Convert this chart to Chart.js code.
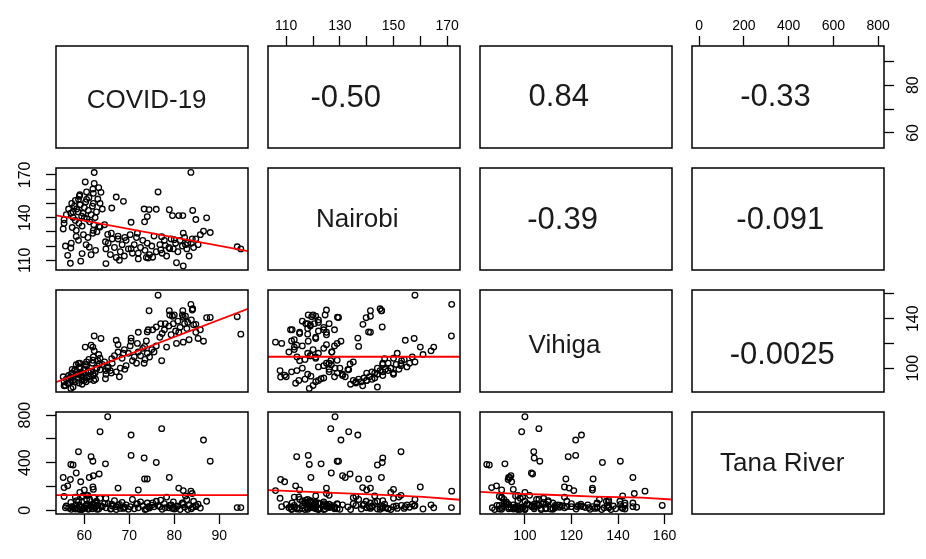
<!DOCTYPE html>
<html>
<head>
<meta charset="utf-8">
<script src="https://cdn.jsdelivr.net/npm/chart.js@4.4.1/dist/chart.umd.min.js"></script>
<style>
  body { margin: 0; background: #fff; width: 926px; height: 559px; overflow: hidden; position: relative; }
  .panel { position: absolute; }
</style>
</head>
<body>
<script>
// variable names on the diagonal
const varNames = ['COVID-19', 'Nairobi', 'Vihiga', 'Tana River'];

// one entry per observation, same order in every array
const covid = [
  65.2, 77.2, 63.5, 70.4, 86.5, 58.7, 70.4, 61.5, 73.3, 88, 76, 57, 64.7, 57.5, 61.9, 58.2, 63.3, 62, 55.3, 61.1, 56.9, 59.2, 73.4, 74, 78.9, 67.5, 81, 83.7, 82, 64.8, 55.5, 56.3, 60, 62, 61.9, 72, 82.5, 84, 87.2, 76.4, 94, 94.8, 62.2, 59, 60.5,
  74.4, 79.6, 81.9, 84.1, 84.8, 67.1, 68.7, 66.1, 60.2, 62.2, 63.2, 63.7, 80.5,
  57.2, 57.8, 58.0, 58.3, 58.6, 58.9, 59.1, 59.4, 59.7, 60.0, 60.3, 60.6, 60.9, 61.2, 61.5, 61.8, 62.1, 62.4, 62.7, 63.0, 56.5, 57.0, 57.5, 58.0, 58.8, 59.5, 56.0, 55.5, 59.0, 60.5, 61.0, 62.0, 63.5, 64.0, 58.2, 59.8, 60.8, 57.3, 62.8, 64.5,
  55.8, 57.1, 58.7, 60.4, 62.5, 59.5,
  64.8, 65.3, 65.8, 66.2, 66.7, 67.1, 67.5, 68.0, 68.4, 68.9, 69.3, 69.8, 70.2, 70.7, 71.1, 71.6, 72.0, 72.5, 73.0, 73.5, 74.0, 74.5, 75.0, 75.5, 76.0, 66.0, 67.8, 69.0, 71.8, 73.8,
  76.8, 77.3, 77.8, 78.3, 78.8, 79.3, 79.8, 80.3, 80.8, 81.3, 81.8, 82.3, 82.8, 83.3, 83.8, 84.3, 84.8, 85.3, 85.8, 79.0, 80.0, 74.2, 75.2, 77.0, 78.0, 82.0, 83.0
];
const nairobi = [
  128.2, 126.6, 133.3, 136.7, 130.4, 152.8, 118.2, 113.9, 146, 129.5, 145.8, 118.6, 123, 144, 129, 126.8, 133.8, 131, 132, 119.2, 107.9, 109.4, 137, 140.7, 145.5, 125, 141.4, 171.7, 106, 107.7, 138.5, 113.5, 140, 150, 160, 115, 121, 125, 139.8, 158, 119.5, 118, 171.6, 149, 152.8,
  145.6, 141.4, 141.4, 145, 138.6, 154.4, 151.4, 146.7, 165, 164, 161, 157.7, 108.3,
  150, 148, 152, 146, 144, 155, 149, 141, 143, 147, 151, 139, 145, 137, 142, 148, 135, 140, 144, 153, 146, 143, 140, 138, 136, 134, 142, 136, 156, 158, 154, 157, 150, 146, 131, 128, 126, 133, 130, 135,
  120, 122, 124, 121, 117, 114.7,
  118, 122, 114, 125, 119, 112, 127, 116, 121, 113, 124, 118, 128, 115, 121, 126, 111, 119, 124, 117, 122, 114, 120, 127, 116, 129, 110, 126, 129, 112,
  121, 115, 124, 113, 119, 125, 118, 122, 116, 124, 120, 126, 118, 113, 122, 119, 125, 121, 128, 118.2, 124.5, 111.6, 112.2, 117.3, 120.5, 129.1, 122
];
const vihiga = [
  100, 106, 98.6, 124.3, 121.8, 103.8, 121.8, 118.6, 104, 141, 133.3, 83.6, 91.4, 84.7, 106.4, 102.8, 103.3, 94, 93, 93.5, 92.8, 94.3, 117.6, 129.3, 146.4, 119, 129, 151.6, 121, 98, 85.7, 87.8, 90, 95, 117, 129, 142, 147, 140.8, 159, 141.6, 127.5, 126, 100, 102,
  146.4, 142, 146.4, 148, 135.4, 122.5, 112, 107.6, 117, 114, 111, 124, 120,
  96, 98, 99, 97, 95, 101, 100, 93, 96, 99, 103, 92, 98, 91, 97, 104, 90, 96, 100, 106, 94, 92, 90, 89, 88, 87, 91, 89, 104, 105, 107, 109, 108, 103, 95, 93, 97, 99, 100, 105,
  86, 90, 92, 89, 91, 90,
  95, 101, 98, 104, 110, 97, 113, 100, 108, 115, 102, 112, 118, 106, 109, 104, 113, 110, 116, 107, 112, 109, 115, 113, 118, 96, 93, 99, 120, 122,
  125, 128, 131, 117, 134, 127, 136, 130, 138, 133, 143, 136, 132, 123, 139, 135, 129, 124, 131, 143, 143, 131, 131, 136, 136, 141.1, 137
];
const tana = [
  786, 686, 660, 632, 590, 492, 461, 450, 439, 412, 401, 385, 390, 380, 412, 313, 305, 290, 275, 275, 258, 239, 263, 263, 275, 186, 186, 160, 165, 100, 190, 205, 170, 175, 195, 170, 120, 140, 75, 40, 22, 22, 22, 150, 125,
  30, 15, 60, 25, 40, 30, 15, 50, 20, 45, 10, 35, 30,
  30, 15, 110, 80, 10, 45, 5, 25, 120, 20, 35, 50, 8, 90, 30, 12, 105, 20, 75, 40, 18, 65, 22, 10, 40, 5, 35, 115, 25, 90, 15, 50, 100, 30, 45, 12, 125, 28, 8, 55,
  20, 8, 70, 40, 60, 110,
  20, 55, 10, 35, 80, 5, 40, 15, 65, 25, 45, 8, 30, 90, 12, 50, 20, 70, 35, 5, 60, 18, 42, 28, 75, 12, 48, 22, 55, 10,
  30, 8, 55, 110, 20, 45, 70, 15, 35, 5, 60, 25, 90, 40, 12, 75, 30, 50, 18, 40, 10, 28, 62, 85, 20, 48, 5
];
const series = [covid, nairobi, vihiga, tana];

// correlations printed in the upper panels, keyed row+col
const corText = { '01': '-0.50', '02': '0.84', '03': '-0.33', '12': '-0.39', '13': '-0.091', '23': '-0.0025' };

// red smoother lines in the lower panels
const fitCovidNairobi = { x: [53.7, 96.4], y: [141.6, 116.5] };
const fitCovidVihiga = { x: [53.7, 96.4], y: [88.6, 148] };
const fitCovidTana = { x: [53.7, 96.4], y: [126, 126] };
const fitNairobiVihiga = { x: [103.2, 174.8], y: [109.2, 109.2] };
const fitNairobiTana = { x: [103.2, 121, 148, 161, 174.8], y: [168, 152, 127, 112, 88] };
const fitVihigaTana = { x: [80.7, 95, 110, 130, 150, 163.2], y: [154, 140, 130, 115, 105, 90] };
const fits = { '10': fitCovidNairobi, '20': fitCovidVihiga, '30': fitCovidTana, '21': fitNairobiVihiga, '31': fitNairobiTana, '32': fitVihigaTana };

// axis ranges and ticks per variable
const axisMin = [53.7, 103.2, 80.7, -32];
const axisMax = [96.4, 174.8, 163.2, 826];
const tickValues = [[60, 70, 80, 90], [110, 120, 130, 140, 150, 160, 170], [100, 120, 140, 160], [0, 200, 400, 600, 800]];
const covidBottomLabels = [60, 70, 80, 90];
const covidRightLabels = [60, 80];
const nairobiTopLabels = [110, 130, 150, 170];
const nairobiLeftLabels = [110, 140, 170];
const vihigaBottomLabels = [100, 120, 140, 160];
const vihigaRightLabels = [100, 140];
const tanaTopLabels = [0, 200, 400, 600, 800];
const tanaLeftLabels = [0, 400, 800];

// outer axes as R draws them: [row, col, side, labels]
const outerAxes = [
  [0, 1, 'top', nairobiTopLabels],
  [0, 3, 'top', tanaTopLabels],
  [0, 3, 'right', covidRightLabels],
  [1, 0, 'left', nairobiLeftLabels],
  [2, 3, 'right', vihigaRightLabels],
  [3, 0, 'left', tanaLeftLabels],
  [3, 0, 'bottom', covidBottomLabels],
  [3, 2, 'bottom', vihigaBottomLabels]
];

// layout
const colLeft = [56, 268, 480, 692];
const rowTop = [46, 168, 290, 412];
const boxW = 192, boxH = 102, M = 44, AXIS = 40, TICK = 10;
const FONT = '"Liberation Sans", Arial, Helvetica, sans-serif';
// text centre as fraction of the panel, and font size
const textPos = {
  '00': [0.472, 0.54, 26], '01': [0.405, 0.51, 31], '02': [0.41, 0.5, 31], '03': [0.435, 0.5, 31],
  '11': [0.465, 0.51, 26], '12': [0.43, 0.51, 31], '13': [0.46, 0.51, 31],
  '22': [0.44, 0.55, 26], '23': [0.47, 0.64, 31],
  '33': [0.47, 0.51, 26]
};

const measure = document.createElement('canvas').getContext('2d');

function axisOptions(v, side, labels) {
  const vertical = side === 'left' || side === 'right';
  const size = vertical ? 16 : 14;
  measure.font = `${size}px ${FONT}`;
  const half = Math.max(...labels.map(l => measure.measureText(String(l)).width)) / 2;
  let padding;
  if (vertical) padding = 30 - TICK - half;
  else padding = side === 'top' ? 28 - TICK - size * 0.6 : 31 - TICK - size * 0.6;
  return {
    type: 'linear',
    position: side,
    min: axisMin[v],
    max: axisMax[v],
    afterBuildTicks: s => { s.ticks = tickValues[v].map(value => ({ value })); },
    afterFit: s => { if (vertical) s.width = AXIS; else s.height = AXIS; },
    border: { display: false },
    grid: { drawOnChartArea: false, drawTicks: true, tickLength: TICK, tickColor: '#000', tickWidth: 1.3 },
    ticks: {
      autoSkip: false,
      color: '#000',
      font: { family: FONT, size },
      padding,
      minRotation: vertical ? 90 : 0,
      maxRotation: vertical ? 90 : 0,
      crossAlign: 'center',
      callback: value => labels.includes(value) ? String(value) : ''
    }
  };
}

const framePlugin = {
  id: 'frame',
  afterDraw(chart) {
    const { ctx, chartArea: a } = chart;
    ctx.save();
    ctx.strokeStyle = '#000';
    ctx.lineWidth = 1.5;
    ctx.strokeRect(a.left, a.top, a.right - a.left, a.bottom - a.top);
    ctx.restore();
  }
};

function textPlugin(txt, fx, fy, size) {
  return {
    id: 'panelText',
    afterDraw(chart) {
      const { ctx, chartArea: a } = chart;
      ctx.save();
      ctx.font = `${size}px ${FONT}`;
      ctx.fillStyle = '#1a1a1a';
      ctx.textAlign = 'center';
      ctx.textBaseline = 'middle';
      ctx.fillText(txt, a.left + fx * (a.right - a.left), a.top + fy * (a.bottom - a.top));
      ctx.restore();
    }
  };
}

function makePanel(r, c) {
  const wrap = document.createElement('div');
  wrap.className = 'panel';
  wrap.style.left = (colLeft[c] - M) + 'px';
  wrap.style.top = (rowTop[r] - M) + 'px';
  const canvas = document.createElement('canvas');
  canvas.width = boxW + 2 * M;
  canvas.height = boxH + 2 * M;
  wrap.appendChild(canvas);
  document.body.appendChild(wrap);

  const sides = {};
  outerAxes.filter(a => a[0] === r && a[1] === c).forEach(a => { sides[a[2]] = a[3]; });
  const padding = {};
  ['left', 'right', 'top', 'bottom'].forEach(s => { padding[s] = sides[s] ? M - AXIS : M; });

  const xSide = sides.top ? 'top' : (sides.bottom ? 'bottom' : null);
  const ySide = sides.left ? 'left' : (sides.right ? 'right' : null);
  const scales = {
    x: xSide ? axisOptions(c, xSide, sides[xSide]) : { type: 'linear', display: false, min: axisMin[c], max: axisMax[c] },
    y: ySide ? axisOptions(r, ySide, sides[ySide]) : { type: 'linear', display: false, min: axisMin[r], max: axisMax[r] }
  };

  const key = `${r}${c}`;
  const datasets = [];
  const plugins = [framePlugin];
  if (r > c) {
    const fit = fits[key];
    datasets.push({
      data: fit.x.map((x, i) => ({ x, y: fit.y[i] })),
      showLine: true,
      borderColor: '#ff0000',
      borderWidth: 1.8,
      pointRadius: 0,
      fill: false
    });
    datasets.push({
      data: series[c].map((x, i) => ({ x, y: series[r][i] })),
      showLine: false,
      pointStyle: 'circle',
      pointRadius: 2.8,
      borderWidth: 1.3,
      borderColor: '#000',
      backgroundColor: 'rgba(0,0,0,0)'
    });
  } else {
    const [fx, fy, size] = textPos[key];
    plugins.push(textPlugin(r === c ? varNames[r] : corText[key], fx, fy, size));
  }

  new Chart(canvas, {
    type: 'scatter',
    data: { datasets },
    options: {
      responsive: false,
      animation: false,
      devicePixelRatio: 1,
      events: [],
      layout: { padding },
      scales,
      plugins: { legend: { display: false }, tooltip: { enabled: false } }
    },
    plugins
  });
}

for (let r = 0; r < 4; r++) {
  for (let c = 0; c < 4; c++) makePanel(r, c);
}
</script>
</body>
</html>
